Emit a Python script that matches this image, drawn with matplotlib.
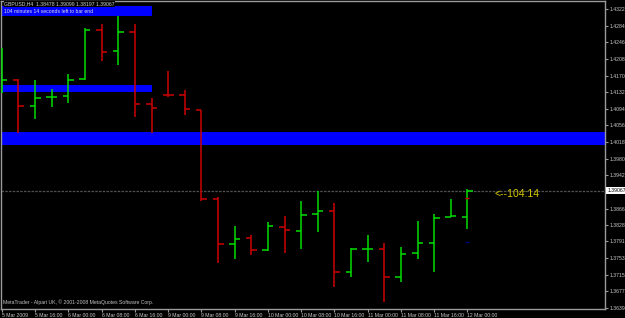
import matplotlib.pyplot as plt
import numpy as np

# GBPUSD H4 bars, first bar 5 Mar 2009 08:00, last 12 Mar 2009 00:00
opens = [1.41416, 1.41598, 1.41004, 1.41210, 1.41233, 1.41621, 1.42740, 1.42261,
         1.42695, 1.41050, 1.41260, 1.41255, 1.40913, 1.38880, 1.37852, 1.37989,
         1.37715, 1.38240, 1.38149, 1.38537, 1.38606, 1.37212, 1.37740, 1.37738,
         1.37098, 1.37646, 1.37875, 1.38469, 1.38478]
highs = [1.42329, 1.41621, 1.41598, 1.41393, 1.41735, 1.42786, 1.42877, 1.43060,
         1.42877, 1.41187, 1.41804, 1.41370, 1.40913, 1.38926, 1.38263, 1.38057,
         1.38354, 1.38491, 1.38834, 1.39063, 1.38788, 1.37760, 1.38057, 1.37875,
         1.37783, 1.38377, 1.38537, 1.38880, 1.39099]
lows = [1.41301, 1.40387, 1.40707, 1.40981, 1.41073, 1.41598, 1.42032, 1.41941,
        1.40753, 1.40387, 1.41210, 1.40799, 1.38834, 1.37418, 1.37509, 1.37600,
        1.37692, 1.37646, 1.37738, 1.38126, 1.36870, 1.37098, 1.37441, 1.36527,
        1.36984, 1.37509, 1.37212, 1.38460, 1.38197]
closes = [1.41598, 1.41004, 1.41187, 1.41215, 1.41598, 1.42740, 1.42238, 1.42695,
          1.41050, 1.40959, 1.41250, 1.40936, 1.38880, 1.37852, 1.37966, 1.37715,
          1.38263, 1.38172, 1.38514, 1.38606, 1.37212, 1.37738, 1.37745, 1.37098,
          1.37623, 1.37875, 1.38446, 1.38491, 1.39067]

price_ticks = [1.43220, 1.42840, 1.42460, 1.42080, 1.41700, 1.41320, 1.40940,
               1.40560, 1.40180, 1.39800, 1.39420, 1.38660, 1.38280, 1.37910,
               1.37530, 1.37150, 1.36770, 1.36390]
time_labels = ["5 Mar 2009", "5 Mar 16:00", "6 Mar 00:00", "6 Mar 08:00",
               "6 Mar 16:00", "9 Mar 00:00", "9 Mar 08:00", "9 Mar 16:00",
               "10 Mar 00:00", "10 Mar 08:00", "10 Mar 16:00", "11 Mar 00:00",
               "11 Mar 08:00", "11 Mar 16:00", "12 Mar 00:00"]

# supply/demand zones: (first bar, last bar, low, high)
zones = [(-1, 9.0, 1.43060, 1.43289),
         (-1, 9.0, 1.41324, 1.41484),
         (-1, 40, 1.40113, 1.40410)]

header = "GBPUSD,H4  1.38478 1.39099 1.38197 1.39067"
timer_text = "104 minutes 14 seconds left to bar end"

FONT = "Liberation Sans"
FS = 3.7
GREEN = "#00dd00"
RED = "#cc0000"
GRAY = "#9a9a9a"
LABEL = "#c8c8c8"

fig = plt.figure(figsize=(6.25, 3.18), dpi=100, facecolor="black")
ax = fig.add_axes([1 / 625, 9 / 318, 604 / 625, 308 / 318], facecolor="black")

n = len(opens)
x = np.arange(n)
o, h, l, c = map(np.array, (opens, highs, lows, closes))
cols = np.where(c >= o, GREEN, RED)

for x0, x1, lo, hi in zones:
    ax.fill_between([x0, x1], lo, hi, color="#0000ff", lw=0, zorder=1)

tw = 0.33
ax.vlines(x, l, h, colors=cols, lw=1.1, zorder=3)
ax.hlines(o, x - tw, x, colors=cols, lw=1.1, zorder=3)
ax.hlines(c, x, x + tw, colors=cols, lw=1.1, zorder=3)

# bid line of the last bar
last = closes[-1]
ax.axhline(last, color="#505050", lw=0.9, ls=(0, (2, 1)), zorder=2)
ax.hlines([1.38903], n - 1.12, n - 0.88, colors="#cc0000", lw=1, zorder=4)
ax.hlines([1.37898], n - 1.12, n - 0.88, colors="#000080", lw=1, zorder=4)

ax.set_xlim(-0.05, 36.27)
ax.set_ylim(1.36367, 1.43403)

ax.yaxis.tick_right()
ax.set_yticks(price_ticks)
ax.set_yticklabels([f"{p:.5f}" for p in price_ticks], fontsize=FS,
                   color=LABEL, family=FONT)
ax.set_xticks(x[::2])
ax.set_xticklabels(time_labels, fontsize=FS, color=LABEL, family=FONT,
                   ha="left")
ax.tick_params(axis="y", colors=GRAY, length=2, width=0.8, pad=1.5,
               labelcolor=LABEL)
ax.tick_params(axis="x", colors=GRAY, length=2, width=0.8, pad=1,
               labelcolor=LABEL)
for s in ax.spines.values():
    s.set_color(GRAY)
    s.set_linewidth(1)

# current price label
ax.text(1.004, last, f"{last:.5f}", transform=ax.get_yaxis_transform(),
        fontsize=FS, family=FONT, color="black", va="center", ha="left",
        bbox=dict(boxstyle="square,pad=0.2", fc="white", ec="none"),
        zorder=5, clip_on=False)

ax.text(29.65, last - 0.0008, "<--104:14", fontsize=7.5, color="#d8c800",
        family=FONT, va="center", ha="left", zorder=5)

ax.text(0.005, 0.99, header, transform=ax.transAxes, fontsize=FS,
        family=FONT, color="#d0d0d0", va="center", ha="left", zorder=6,
        bbox=dict(boxstyle="square,pad=0.1", fc="black", ec="none"))
ax.text(0.005, 0.967, timer_text, transform=ax.transAxes, fontsize=FS,
        family=FONT, color="#e0e0e0", va="center", ha="left", zorder=6)
ax.text(0.004, 0.012, "MetaTrader - Alpari UK, \u00a9 2001-2008 MetaQuotes Software Corp.",
        transform=ax.transAxes, fontsize=FS, family=FONT, color="#c0c0c0",
        va="bottom", ha="left", zorder=6)

fig.savefig("out.png", dpi=100, facecolor="black")
